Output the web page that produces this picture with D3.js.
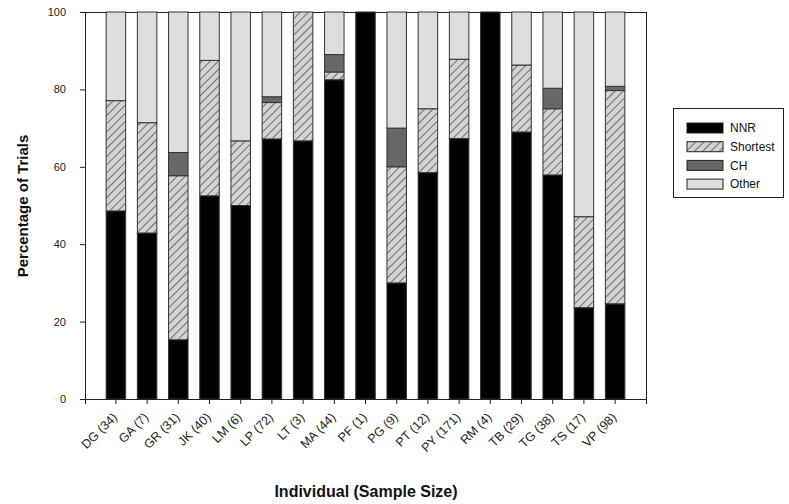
<!DOCTYPE html>
<html>
<head>
<meta charset="utf-8">
<script src="https://cdn.jsdelivr.net/npm/d3@7"></script>
<style>
    body { margin: 0; background: #fff; }
    text { font-family: "Liberation Sans", Arial, sans-serif; }
</style>
</head>
<body>
<div id="chart"></div>
<script>
// individuals and their sample sizes
var individuals = ["DG (34)", "GA (7)", "GR (31)", "JK (40)", "LM (6)", "LP (72)", "LT (3)", "MA (44)", "PF (1)",
    "PG (9)", "PT (12)", "PY (171)", "RM (4)", "TB (29)", "TG (38)", "TS (17)", "VP (98)"];

// percentages per category (Other fills up to 100)
var nnr      = [48.6, 42.9, 15.3, 52.5, 50.0, 67.2, 66.7, 82.5, 100, 30.0, 58.5, 67.3, 100, 69.0, 57.9, 23.6, 24.6];
var shortest = [28.5, 28.5, 42.4, 35.0, 16.7,  9.4, 33.3,  2.0,   0, 30.0, 16.5, 20.5,   0, 17.3, 17.1, 23.5, 55.1];
var ch       = [   0,    0,  6.0,    0,    0,  1.5,    0,  4.5,   0, 10.0,    0,    0,   0,    0,  5.3,    0,  1.1];

var seriesNames = ["NNR", "Shortest", "CH", "Other"];
var yTicks = [0, 20, 40, 60, 80, 100];

var width = 789, height = 504;
var plotLeft = 85, plotRight = 646, plotTop = 12, plotBottom = 399;

var svg = d3.select("#chart").append("svg")
    .attr("width", width)
    .attr("height", height);

var defs = svg.append("defs");
var hatch = defs.append("pattern")
    .attr("id", "hatch")
    .attr("patternUnits", "userSpaceOnUse")
    .attr("width", 5.8)
    .attr("height", 5.8)
    .attr("patternTransform", "rotate(45)");
hatch.append("rect").attr("width", 5.8).attr("height", 5.8).attr("fill", "#d2d2d2");
hatch.append("line")
    .attr("x1", 0).attr("y1", 0).attr("x2", 0).attr("y2", 5.8)
    .attr("stroke", "#2a2a2a").attr("stroke-width", 1.2);

var fills = {"NNR": "#000000", "Shortest": "url(#hatch)", "CH": "#676767", "Other": "#dedede"};

var rows = individuals.map(function (name, i) {
    return {
        name: name,
        NNR: nnr[i],
        Shortest: shortest[i],
        CH: ch[i],
        Other: Math.max(0, 100 - nnr[i] - shortest[i] - ch[i])
    };
});

var stack = d3.stack().keys(seriesNames);
var layers = stack(rows);

var x = d3.scaleBand()
    .domain(individuals)
    .range([plotLeft, plotRight])
    .paddingInner(0.375)
    .paddingOuter(0.678);

var y = d3.scaleLinear().domain([0, 100]).range([plotBottom, plotTop]);

// frame top/right
svg.append("line").attr("x1", plotLeft).attr("x2", plotRight).attr("y1", plotTop + 0.5).attr("y2", plotTop + 0.5)
    .attr("stroke", "#222").attr("stroke-width", 1);
svg.append("line").attr("x1", plotRight + 0.5).attr("x2", plotRight + 0.5).attr("y1", plotTop).attr("y2", plotBottom)
    .attr("stroke", "#222").attr("stroke-width", 1);

svg.append("g").selectAll("g")
    .data(layers)
    .enter().append("g")
    .attr("fill", function (d) { return fills[d.key]; })
    .selectAll("rect")
    .data(function (d) { return d.filter(function (s) { return s[1] - s[0] > 0; }); })
    .enter().append("rect")
    .attr("x", function (d) { return x(d.data.name); })
    .attr("y", function (d) { return y(d[1]); })
    .attr("width", x.bandwidth())
    .attr("height", function (d) { return y(d[0]) - y(d[1]); })
    .attr("stroke", "#333")
    .attr("stroke-width", 1);

// axes
var yAxis = svg.append("g")
    .attr("transform", "translate(" + plotLeft + ",0)")
    .call(d3.axisLeft(y).tickValues(yTicks).tickSize(5).tickPadding(14));
yAxis.selectAll("text").attr("font-size", 11).attr("fill", "#222");
yAxis.select(".domain").attr("stroke", "#222");
yAxis.selectAll(".tick line").attr("stroke", "#222");

var xAxis = svg.append("g")
    .attr("transform", "translate(0," + plotBottom + ")")
    .call(d3.axisBottom(x).tickSizeOuter(0).tickSize(5));
xAxis.select(".domain").attr("stroke", "#222");
xAxis.selectAll(".tick line").attr("stroke", "#222");
xAxis.selectAll("text")
    .attr("font-size", 12.5)
    .attr("fill", "#222")
    .attr("text-anchor", "end")
    .attr("dy", "0.35em")
    .attr("transform", "translate(-1,16) rotate(-45)")
    .attr("x", 0).attr("y", 0);

// axis titles
svg.append("text")
    .attr("x", 366).attr("y", 497)
    .attr("text-anchor", "middle")
    .attr("font-size", 16).attr("font-weight", "bold").attr("fill", "#111")
    .text("Individual (Sample Size)");

svg.append("text")
    .attr("transform", "translate(28,206) rotate(-90)")
    .attr("text-anchor", "middle")
    .attr("font-size", 15).attr("font-weight", "bold").attr("fill", "#111")
    .text("Percentage of Trials");

// legend
var legend = svg.append("g");
legend.append("rect")
    .attr("x", 673.5).attr("y", 108.5).attr("width", 110).attr("height", 89)
    .attr("fill", "#fff").attr("stroke", "#222").attr("stroke-width", 1);

var items = legend.selectAll("g.item")
    .data(seriesNames)
    .enter().append("g")
    .attr("class", "item")
    .attr("transform", function (d, i) { return "translate(687," + (123 + i * 18.7) + ")"; });
items.append("rect")
    .attr("width", 36).attr("height", 10)
    .attr("fill", function (d) { return fills[d]; })
    .attr("stroke", "#222").attr("stroke-width", 1);
items.append("text")
    .attr("x", 43).attr("y", 5).attr("dy", "0.35em")
    .attr("font-size", 12).attr("fill", "#111")
    .text(function (d) { return d; });
</script>
</body>
</html>
